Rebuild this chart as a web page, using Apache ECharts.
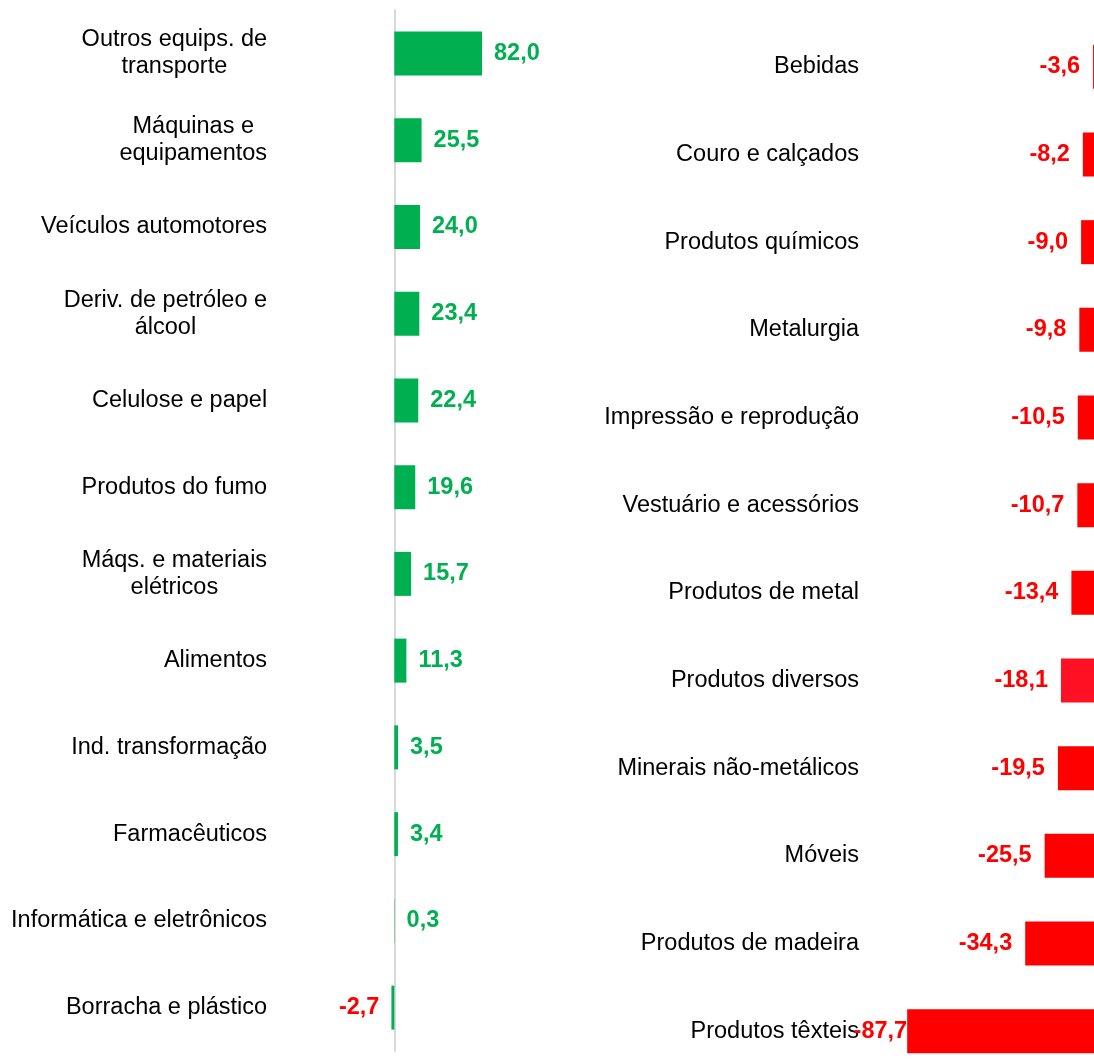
<!DOCTYPE html>
<html>
<head>
<meta charset="utf-8">
<script src="https://cdn.jsdelivr.net/npm/echarts@6/dist/echarts.min.js"></script>
<style>
	html, body { margin: 0; padding: 0; background: #fff; }
	#chart { width: 1094px; height: 1064px; }
</style>
</head>
<body>
<div id="chart"></div>
<script>
	// setores com variação positiva (painel esquerdo)
	var leftCategories = ['Outros equips. de\ntransporte', 'Máquinas e\nequipamentos', 'Veículos automotores',
		'Deriv. de petróleo e\nálcool', 'Celulose e papel', 'Produtos do fumo', 'Máqs. e materiais\nelétricos',
		'Alimentos', 'Ind. transformação', 'Farmacêuticos', 'Informática e eletrônicos', 'Borracha e plástico']
	var leftValues = [82.0, 25.5, 24.0, 23.4, 22.4, 19.6, 15.7, 11.3, 3.5, 3.4, 0.3, -2.7]

	// setores com variação negativa (painel direito)
	var rightCategories = ['Bebidas', 'Couro e calçados', 'Produtos químicos', 'Metalurgia',
		'Impressão e reprodução', 'Vestuário e acessórios', 'Produtos de metal', 'Produtos diversos',
		'Minerais não-metálicos', 'Móveis', 'Produtos de madeira', 'Produtos têxteis']
	var rightValues = [-3.6, -8.2, -9.0, -9.8, -10.5, -10.7, -13.4, -18.1, -19.5, -25.5, -34.3, -87.7]

	var FONT = '"Liberation Sans", Arial, sans-serif'
	var FS = 23.5
	var GREEN = '#00B050'
	var RED = '#FF0000'

	function fmt(v) {
		return v.toFixed(1).replace('.', ',')
	}

	// multi-line labels: lines centred inside the block, block right-aligned
	function catLabel(name) {
		return name.split('\n').map(function (l) { return '{c|' + l + '}' }).join('\n')
	}

	var leftData = leftValues.map(function (v) {
		return {
			value: v,
			label: {
				position: v < 0 ? 'left' : 'right',
				color: v < 0 ? RED : GREEN
			}
		}
	})

	var minRight = Math.min.apply(null, rightValues)
	var rightData = rightValues.map(function (v, i) {
		return {
			value: v,
			itemStyle: { color: rightCategories[i] === 'Produtos diversos' ? '#FF1022' : RED },
			label: { distance: v === minRight ? 0 : 13 }
		}
	})

	var chart = echarts.init(document.getElementById('chart'))

	var catAxisLabel = {
		fontFamily: FONT,
		fontSize: FS,
		color: '#000',
		formatter: catLabel,
		rich: {
			c: { align: 'center', fontFamily: FONT, fontSize: FS, color: '#000', lineHeight: 27 }
		}
	}

	var option = {
		animation: false,
		backgroundColor: '#fff',
		grid: [
			{ left: 383.6, width: 117.7, top: 10, height: 1041, outerBoundsMode: 'none' },
			// a parte direita passa um pouco da borda, como no original
			{ left: 880, width: 221, top: 23, height: 1052, outerBoundsMode: 'none' }
		],
		xAxis: [
			{ gridIndex: 0, type: 'value', min: -10, max: 100, show: false },
			{ gridIndex: 1, type: 'value', min: -100, max: 0, show: false }
		],
		yAxis: [
			{
				gridIndex: 0,
				type: 'category',
				inverse: true,
				data: leftCategories,
				axisLine: { onZero: true, lineStyle: { color: '#d9d9d9', width: 2 } },
				axisTick: { show: false },
				axisLabel: Object.assign({ margin: 116.5 }, catAxisLabel)
			},
			{
				gridIndex: 1,
				type: 'category',
				inverse: true,
				data: rightCategories,
				axisLine: { show: false, onZero: false },
				axisTick: { show: false },
				axisLabel: Object.assign({ margin: 21 }, catAxisLabel)
			}
		],
		series: [
			{
				type: 'bar',
				xAxisIndex: 0,
				yAxisIndex: 0,
				barWidth: 44,
				itemStyle: { color: GREEN },
				label: {
					show: true,
					distance: 12,
					fontFamily: FONT,
					fontSize: FS,
					fontWeight: 'bold',
					formatter: function (p) { return fmt(p.value) }
				},
				data: leftData
			},
			{
				type: 'bar',
				xAxisIndex: 1,
				yAxisIndex: 1,
				barWidth: 44,
				itemStyle: { color: RED },
				label: {
					show: true,
					position: 'left',
					fontFamily: FONT,
					fontSize: FS,
					fontWeight: 'bold',
					color: RED,
					formatter: function (p) { return fmt(p.value) }
				},
				data: rightData
			}
		]
	}

	chart.setOption(option)
</script>
</body>
</html>
